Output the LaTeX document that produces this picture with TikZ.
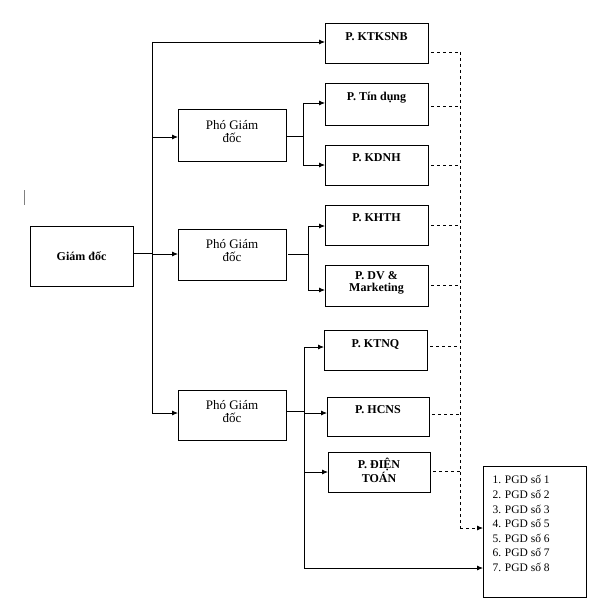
\documentclass[tikz,border=0pt]{standalone}
\usepackage{fontspec}
\setmainfont{Liberation Serif}
\usetikzlibrary{arrows.meta}
\begin{document}
\begin{tikzpicture}[x=1pt,y=-1pt,
  box/.style={draw,line width=1pt,inner sep=0pt},
  lbl/.style={font=\fontsize{12}{12}\selectfont\bfseries,align=center,anchor=north},
  plbl/.style={font=\fontsize{13}{13}\selectfont,align=center},
  con/.style={line width=0.8pt},
  arr/.style={con,-{Latex[length=6pt,width=5pt]}},
  dsh/.style={line width=0.8pt,dash pattern=on 3pt off 3pt}]
\useasboundingbox (0,0) rectangle (600,615);
\draw[gray,line width=0.6pt] (24,190) -- (24,205);
% boxes
\draw[box] (30,226) rectangle (133,286); \node[plbl,font=\fontsize{12}{12}\selectfont\bfseries] (gd) at (81.5,256) {Giám đốc};
\coordinate (gdR) at (133,253);
\draw[box] (178,110) rectangle (286,161); \node[plbl] (p1) at (232,132) {Phó Giám\\đốc};
\draw[box] (178,229) rectangle (286,280); \node[plbl] (p2) at (232,251) {Phó Giám\\đốc};
\draw[box] (178,390) rectangle (286,440); \node[plbl] (p3) at (232,412) {Phó Giám\\đốc};
\draw[box] (325,24) rectangle (428,64); \node[lbl] (k1) at (376.5,29) {P. KTKSNB};
\draw[box] (325,84) rectangle (428,125); \node[lbl] (k2) at (376.5,89) {P. Tín dụng};
\draw[box] (325,145) rectangle (428,185); \node[lbl] (k3) at (376.5,150) {P. KDNH};
\draw[box] (325,205) rectangle (428,245); \node[lbl] (k4) at (376.5,210) {P. KHTH};
\draw[box] (325,265) rectangle (428,306); \node[lbl] (k5) at (376.5,268) {P. DV \&\\Marketing};
\draw[box] (324,330) rectangle (427,370); \node[lbl] (k6) at (375.5,336) {P. KTNQ};
\draw[box] (327,397) rectangle (429,436); \node[lbl] (k7) at (378,402) {P. HCNS};
\draw[box] (328,452) rectangle (430,492); \node[lbl] (k8) at (379,455) {P. ĐIỆN\\TOÁN};
\draw[box] (483,466) rectangle (586,597);
\node[font=\fontsize{11.5}{14.6}\selectfont,align=left,anchor=north west] (lst) at (489,472) {1. PGD số 1\\2. PGD số 2\\3. PGD số 3\\4. PGD số 5\\5. PGD số 6\\6. PGD số 7\\7. PGD số 8};
% main trunk
\draw[con] (133,253) -- (152,253);
\draw[con] (152,42) -- (152,413);
\draw[arr] (152,42) -- (325,42);
\draw[arr] (152,137) -- (178,137);
\draw[arr] (152,254) -- (178,254);
\draw[arr] (152,413) -- (178,413);
% PGD1
\draw[con] (286,136) -- (303,136) (303,103) -- (303,165);
\draw[arr] (303,103) -- (325,103);
\draw[arr] (303,165) -- (325,165);
% PGD2
\draw[con] (288,254) -- (308,254) (308,226) -- (308,290);
\draw[arr] (308,226) -- (325,226);
\draw[arr] (308,290) -- (325,290);
% PGD3
\draw[con] (286,411) -- (304,411) (304,347) -- (304,568);
\draw[arr] (304,347) -- (324,347);
\draw[arr] (304,413) -- (327,413);
\draw[arr] (304,472) -- (328,472);
\draw[arr] (304,568) -- (483,568);
% dashed
\foreach \y/\x in {52/431,106/431,165/431,225/431,285/431,346/430,414/432,471/433}
  \draw[dsh] (\x,\y) -- (460,\y);
\draw[dsh] (460,52) -- (460,528);
\draw[dsh,-{Latex[length=6pt,width=5pt]}] (460,528) -- (483,528);
\end{tikzpicture}
\end{document}
